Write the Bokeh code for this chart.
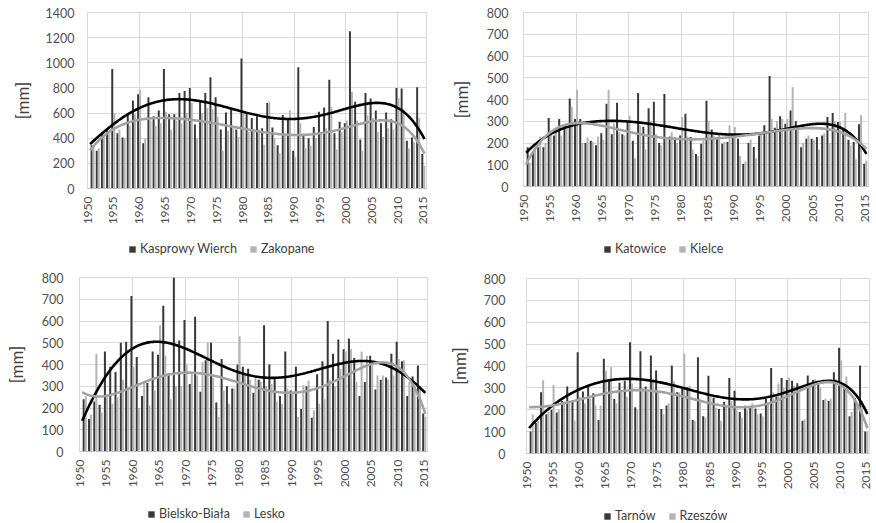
import numpy as np
from bokeh.plotting import figure
from bokeh.models import FixedTicker, Legend, LegendItem, Range1d
from bokeh.layouts import column, row
from bokeh.embed import file_html
from bokeh.resources import INLINE

years = list(range(1951, 2016))
x_ticks = list(range(1950, 2016, 5))
grid_x = list(range(1950, 2016, 10))

kasprowy = [345, 300, 450, 475, 950, 440, 405, 600, 700, 750,
            360, 725, 575, 620, 950, 590, 590, 760, 775, 800,
            510, 700, 760, 885, 725, 470, 605, 630, 470, 1035,
            605, 560, 575, 480, 680, 485, 345, 585, 560, 300,
            965, 425, 400, 490, 610, 645, 865, 440, 530, 520,
            1250, 690, 390, 760, 715, 620, 520, 605, 550, 800,
            795, 380, 405, 805, 275]
zakopane = [340, 320, 420, 440, 600, 470, 400, 500, 590, 785,
            400, 540, 500, 520, 610, 470, 540, 520, 600, 680,
            400, 600, 640, 630, 570, 300, 460, 480, 410, 600,
            450, 450, 470, 350, 690, 400, 280, 420, 620, 250,
            520, 320, 340, 400, 450, 480, 650, 310, 450, 540,
            770, 540, 300, 580, 560, 450, 410, 480, 470, 720,
            630, 320, 370, 560, 180]

katowice = [180, 160, 180, 180, 315, 235, 310, 280, 405, 310,
            310, 200, 210, 190, 245, 380, 240, 385, 240, 300,
            210, 430, 275, 360, 390, 200, 425, 230, 225, 235,
            335, 228, 150, 197, 394, 262, 225, 197, 205, 225,
            220, 105, 200, 182, 235, 282, 508, 270, 323, 289,
            350, 300, 180, 220, 220, 228, 235, 320, 338, 297,
            270, 215, 205, 286, 105]
kielce = [110, 170, 230, 200, 240, 270, 235, 290, 365, 445,
          200, 225, 205, 230, 215, 445, 290, 250, 235, 325,
          130, 280, 170, 300, 240, 190, 220, 250, 200, 320,
          230, 170, 140, 210, 300, 235, 240, 205, 282, 274,
          140, 115, 215, 130, 240, 250, 310, 300, 310, 310,
          458, 270, 200, 235, 215, 170, 245, 200, 300, 297,
          338, 190, 125, 328, 120]

bielsko = [240, 150, 230, 215, 460, 390, 365, 500, 505, 715,
           435, 255, 315, 460, 445, 670, 360, 800, 510, 605,
           310, 620, 275, 420, 500, 225, 425, 300, 290, 400,
           390, 380, 270, 330, 580, 400, 340, 255, 460, 280,
           390, 195, 300, 155, 355, 415, 600, 450, 515, 470,
           520, 430, 255, 320, 440, 285, 330, 340, 450, 505,
           415, 255, 345, 395, 175]
lesko = [255, 170, 450, 180, 250, 220, 250, 330, 290, 390,
         200, 320, 210, 280, 580, 440, 240, 300, 300, 400,
         360, 350, 410, 500, 340, 160, 280, 220, 290, 530,
         350, 330, 340, 320, 300, 310, 230, 220, 290, 270,
         160, 305, 325, 190, 220, 240, 330, 300, 380, 460,
         470, 320, 460, 440, 400, 350, 350, 330, 350, 425,
         420, 320, 300, 300, 160]

tarnow = [101, 139, 280, 180, 200, 188, 240, 306, 242, 463,
          283, 305, 275, 153, 433, 330, 249, 324, 333, 509,
          211, 468, 306, 448, 379, 203, 220, 402, 280, 300,
          303, 153, 440, 170, 356, 255, 203, 237, 345, 287,
          190, 218, 210, 206, 183, 250, 391, 260, 345, 336,
          333, 321, 150, 357, 336, 330, 245, 240, 372, 483,
          300, 170, 254, 402, 101]
rzeszow = [180, 150, 335, 190, 313, 200, 230, 230, 150, 260,
           230, 250, 220, 220, 380, 395, 230, 290, 260, 320,
           200, 300, 290, 340, 280, 180, 230, 330, 280, 456,
           310, 150, 250, 165, 260, 210, 150, 220, 240, 200,
           165, 200, 230, 180, 170, 230, 280, 320, 300, 348,
           310, 280, 155, 320, 340, 300, 250, 250, 340, 425,
           352, 190, 230, 240, 100]

DARK = "#383838"
LIGHT = "#b4b4b4"
FONT = "Lato"
TXT = "#404040"


def trend(vals):
    x = (np.array(years, float) - 1983.0) / 32.0
    c = np.polyfit(x, np.array(vals, float), 6)
    xs = np.linspace(1950.5, 2015.2, 300)
    return xs, np.polyval(c, (xs - 1983.0) / 32.0)


def panel(dark, light, ymax, ystep, w, h, bl, br, bt, bb, tick_sd, lab_sd):
    p = figure(width=w, height=h, output_backend="svg", toolbar_location=None,
               x_range=Range1d(1950, 2015.6), y_range=Range1d(0, ymax),
               min_border_left=bl, min_border_right=br,
               min_border_top=bt, min_border_bottom=bb)
    p.background_fill_color = "white"
    p.outline_line_color = "#d9d9d9"
    xd = [y - 0.21 for y in years]
    xl = [y + 0.18 for y in years]
    p.vbar(x=xd, top=dark, width=0.38, bottom=0, fill_color=DARK,
           line_color=None)
    p.vbar(x=xl, top=light, width=0.38, bottom=0, fill_color=LIGHT,
           line_color=None)
    tx, ty = trend(dark)
    p.line(tx, ty, line_color="black", line_width=2.6)
    tx2, ty2 = trend(light)
    p.line(tx2, ty2, line_color="#a2a2a2", line_width=2.6)

    p.xaxis.ticker = FixedTicker(ticks=x_ticks)
    p.xgrid.ticker = FixedTicker(ticks=grid_x)
    p.yaxis.ticker = FixedTicker(ticks=list(range(0, ymax + 1, ystep)))
    p.xgrid.grid_line_color = "#d9d9d9"
    p.ygrid.grid_line_color = "#d9d9d9"
    p.xaxis.major_label_orientation = np.pi / 2
    for ax in (p.xaxis, p.yaxis):
        ax.major_tick_line_color = None
        ax.minor_tick_line_color = None
        ax.major_tick_out = 0
        ax.major_tick_in = 0
        ax.major_label_text_font = FONT
        ax.major_label_text_color = "#505050"
    p.xaxis.axis_line_color = "#bfbfbf"
    p.yaxis.axis_line_color = "#d9d9d9"
    p.xaxis.major_label_text_font_size = "12px"
    p.yaxis.major_label_text_font_size = "12.5px"
    p.xaxis.major_label_standoff = 8
    p.yaxis.major_label_standoff = tick_sd
    p.yaxis.axis_label = "[mm]"
    p.yaxis.axis_label_text_font = FONT
    p.yaxis.axis_label_text_font_size = "17px"
    p.yaxis.axis_label_text_font_style = "normal"
    p.yaxis.axis_label_text_color = TXT
    p.yaxis.axis_label_standoff = lab_sd
    return p


def legend_fig(dark, light, names, w, h, loc):
    # legend-only strip (its frame is aligned with the chart above);
    # the proxy bars are squashed to sub-pixel height
    q = figure(width=w, height=h, output_backend="svg", toolbar_location=None,
               x_axis_type=None, y_axis_type=None,
               x_range=Range1d(1950, 2015.6), y_range=Range1d(0, 1e9),
               min_border=0, min_border_left=0, min_border_right=0,
               min_border_top=0, min_border_bottom=0)
    q.outline_line_color = None
    q.background_fill_color = "white"
    r1 = q.vbar(x=years, top=dark, bottom=0, width=0.38,
                fill_color=DARK, line_color=None)
    r2 = q.vbar(x=years, top=light, bottom=0, width=0.38,
                fill_color=LIGHT, line_color=None)
    leg = Legend(items=[LegendItem(label=names[0], renderers=[r1]),
                        LegendItem(label=names[1], renderers=[r2])],
                 orientation="horizontal", location=loc,
                 label_text_font=FONT, label_text_font_size="12.5px",
                 label_text_color=TXT, glyph_width=8, glyph_height=8,
                 label_standoff=4, spacing=12, padding=0, margin=0,
                 label_height=12, background_fill_alpha=0,
                 border_line_alpha=0)
    q.add_layout(leg, "center")
    return q


p1 = panel(kasprowy, zakopane, 1400, 200, 438, 235, 87, 12, 12, 47, 13, 10)
p2 = panel(katowice, kielce, 800, 100, 438, 235, 85, 8, 12, 49, 15, 12)
p3 = panel(bielsko, lesko, 800, 100, 438, 244, 79, 11, 16, 54, 16, 12)
p4 = panel(tarnow, rzeszow, 800, 100, 438, 246, 88, 7, 17, 54, 21, 11)

l1 = legend_fig(kasprowy, zakopane, ["Kasprowy Wierch", "Zakopane"],
                438, 26, (41, 5))
l2 = legend_fig(katowice, kielce, ["Katowice", "Kielce"], 438, 26, (80, 5))
l3 = legend_fig(bielsko, lesko, ["Bielsko-Biała", "Lesko"], 438, 18, (68, 2))
l4 = legend_fig(tarnow, rzeszow, ["Tarnów", "Rzeszów"], 438, 16, (77, 0))

layout = column(row(column(p1, l1), column(p2, l2)),
                row(column(p3, l3), column(p4, l4)))
open("out.html", "w").write(file_html(layout, INLINE))
